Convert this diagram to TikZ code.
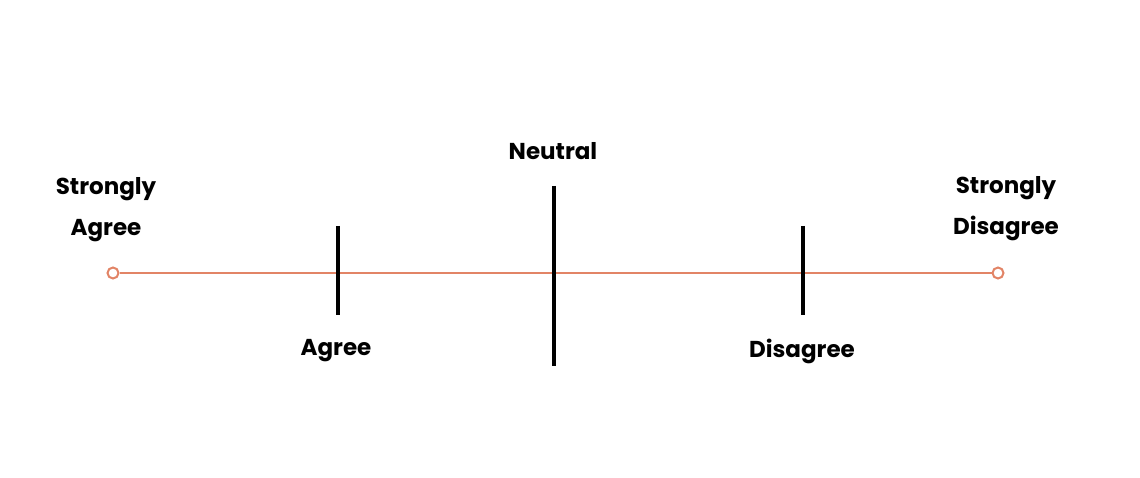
\documentclass[tikz,border=0pt]{standalone}
\usepackage{fontspec}
\setmainfont{Poppins}[UprightFont={* SemiBold},BoldFont={* Bold}]
\definecolor{sal}{RGB}{226,132,102}
\begin{document}
\begin{tikzpicture}[x=1pt,y=-1pt,
  lbl/.style={font=\fontsize{23}{41}\selectfont\bfseries,align=center,inner sep=0pt},
  tick/.style={line width=3.2pt,black},
  endpt/.style={circle,draw=sal,fill=white,line width=2pt,minimum size=11pt,inner sep=0pt}]
\useasboundingbox (0,0) rectangle (1140,478);
\node[endpt] (L) at (113,273) {};
\node[endpt] (R) at (998,273) {};
\draw[sal,line width=2.8pt] (L) -- (R);
\coordinate (a1) at (338,226); \coordinate (a2) at (338,315);
\coordinate (n1) at (554,186); \coordinate (n2) at (554,366);
\coordinate (d1) at (803,226); \coordinate (d2) at (803,315);
\draw[tick] (a1) -- (a2);
\draw[tick] (n1) -- (n2);
\draw[tick] (d1) -- (d2);
\node[lbl] (sa) at (106,210) {Strongly\\Agree};
\node[lbl] (ne) at (553,151) {Neutral};
\node[lbl] (ag) at (336,351) {Agree};
\node[lbl] (di) at (802,351) {Disagree};
\node[lbl] (sd) at (1006,209) {Strongly\\Disagree};
\end{tikzpicture}
\end{document}
